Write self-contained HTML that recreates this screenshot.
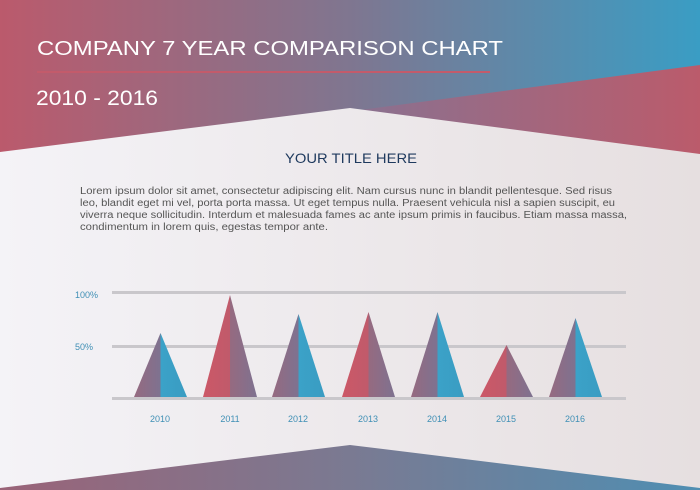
<!DOCTYPE html>
<html><head><meta charset="utf-8"><style>
html,body{margin:0;padding:0;width:700px;height:490px;overflow:hidden}
svg{display:block}
text{font-family:"Liberation Sans",sans-serif}
</style></head><body>
<svg width="700" height="490" viewBox="0 0 700 490" xmlns="http://www.w3.org/2000/svg">
<defs>
<linearGradient id="hdr" x1="0" y1="0" x2="1" y2="0">
<stop offset="0" stop-color="#bb5a6c"/><stop offset="0.5" stop-color="#7f7690"/><stop offset="1" stop-color="#3a9dc4"/>
</linearGradient>
<linearGradient id="red" x1="0" y1="0" x2="1" y2="0">
<stop offset="0" stop-color="#8a7190"/><stop offset="1" stop-color="#bb5b6b"/>
</linearGradient>
<linearGradient id="panel" x1="0" y1="0" x2="1" y2="0">
<stop offset="0" stop-color="#f4f3f7"/><stop offset="1" stop-color="#e6dfe0"/>
</linearGradient>
<linearGradient id="bot" x1="0" y1="0" x2="1" y2="0">
<stop offset="0" stop-color="#9a6378"/><stop offset="0.5" stop-color="#7a7a92"/><stop offset="1" stop-color="#4f8eb2"/>
</linearGradient>
<linearGradient id="pl" x1="0" y1="0" x2="1" y2="0"><stop offset="0" stop-color="#966a80"/><stop offset="1" stop-color="#7e7290"/></linearGradient>
<linearGradient id="rd" x1="0" y1="0" x2="1" y2="0"><stop offset="0" stop-color="#cc5867"/><stop offset="1" stop-color="#c05a6b"/></linearGradient>
<linearGradient id="bl" x1="0" y1="0" x2="1" y2="0"><stop offset="0" stop-color="#3ba2c8"/><stop offset="1" stop-color="#3a9cc2"/></linearGradient>
</defs>
<rect width="700" height="490" fill="url(#hdr)"/>
<polygon points="360,110 700,65 700,160" fill="url(#red)"/>
<polygon points="0,152 350,108 700,154 700,490 0,490" fill="url(#panel)"/>
<polygon points="0,488 350,445 700,488 700,490 0,490" fill="url(#bot)"/>
<text x="37" y="55" font-size="20" fill="#fff" textLength="466" lengthAdjust="spacingAndGlyphs">COMPANY 7 YEAR COMPARISON CHART</text>
<rect x="37" y="71" width="453" height="2" fill="#c35b6b"/>
<text x="36" y="105" font-size="21" fill="#fff" textLength="122" lengthAdjust="spacingAndGlyphs">2010 - 2016</text>
<text x="285" y="163" font-size="14" fill="#1f3a5e" textLength="132" lengthAdjust="spacingAndGlyphs">YOUR TITLE HERE</text>
<g font-size="10" fill="#555" lengthAdjust="spacingAndGlyphs">
<text x="80" y="194" textLength="532" lengthAdjust="spacingAndGlyphs">Lorem ipsum dolor sit amet, consectetur adipiscing elit. Nam cursus nunc in blandit pellentesque. Sed risus</text>
<text x="80" y="206" textLength="535" lengthAdjust="spacingAndGlyphs">leo, blandit eget mi vel, porta porta massa. Ut eget tempus nulla.  Praesent vehicula nisl a sapien suscipit, eu</text>
<text x="80" y="218" textLength="547" lengthAdjust="spacingAndGlyphs">viverra neque sollicitudin. Interdum et malesuada fames ac ante ipsum primis in faucibus. Etiam massa massa,</text>
<text x="80" y="230" textLength="248" lengthAdjust="spacingAndGlyphs">condimentum in lorem quis, egestas tempor ante.</text>
</g>
<g fill="#c9c7cb">
<rect x="112" y="291" width="514" height="3"/>
<rect x="112" y="345" width="514" height="3"/>
<rect x="112" y="397" width="514" height="3"/>
</g>
<g font-size="9" fill="#3f8fb5">
<text x="75" y="298">100%</text>
<text x="75" y="350">50%</text>
</g>
<g>
<polygon points="134,397 160.5,333 160.5,397" fill="url(#pl)"/><polygon points="160.5,333 160.5,397 187,397" fill="url(#bl)"/>
<polygon points="203,397 230,295 230,397" fill="url(#rd)"/><polygon points="230,295 230,397 257,397" fill="url(#pl)"/>
<polygon points="272,397 298.5,314 298.5,397" fill="url(#pl)"/><polygon points="298.5,314 298.5,397 325,397" fill="url(#bl)"/>
<polygon points="342,397 368.5,312 368.5,397" fill="url(#rd)"/><polygon points="368.5,312 368.5,397 395,397" fill="url(#pl)"/>
<polygon points="411,397 437.5,312 437.5,397" fill="url(#pl)"/><polygon points="437.5,312 437.5,397 464,397" fill="url(#bl)"/>
<polygon points="480,397 506.5,345 506.5,397" fill="url(#rd)"/><polygon points="506.5,345 506.5,397 533,397" fill="url(#pl)"/>
<polygon points="549,397 575.5,318 575.5,397" fill="url(#pl)"/><polygon points="575.5,318 575.5,397 602,397" fill="url(#bl)"/>
</g>
<g font-size="9" fill="#3f8fb5" text-anchor="middle">
<text x="160" y="422">2010</text><text x="230" y="422">2011</text><text x="298" y="422">2012</text>
<text x="368" y="422">2013</text><text x="437" y="422">2014</text><text x="506" y="422">2015</text><text x="575" y="422">2016</text>
</g>
</svg>
</body></html>
